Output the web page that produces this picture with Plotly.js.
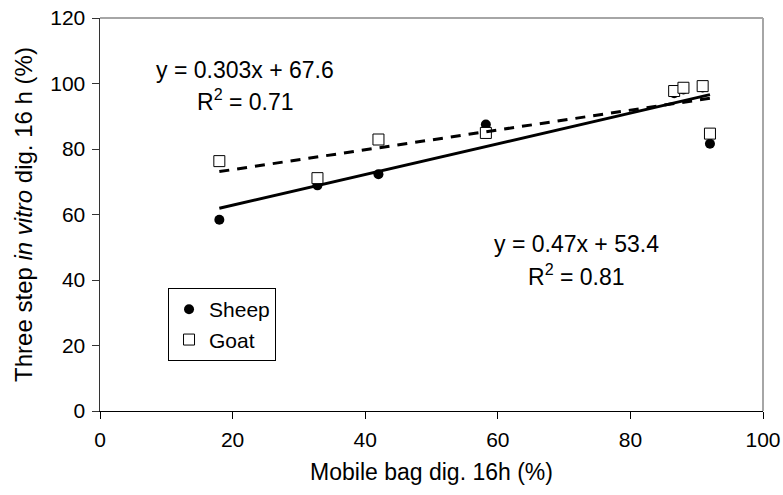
<!DOCTYPE html>
<html>
<head>
<meta charset="utf-8">
<script src="https://cdn.plot.ly/plotly-3.0.1.min.js"></script>
<style>html,body{margin:0;padding:0;background:#fff;}#chart{width:783px;height:495px;}</style>
</head>
<body>
<div id="chart"></div>
<script>
// Data
const sheepX = [18, 32.8, 42, 58.2, 86.6, 88, 90.9, 92];
const sheepY = [58.4, 68.9, 72.3, 87.5, 97.0, 98.2, 98.8, 81.6];
const goatX = [18, 32.8, 42, 58.2, 86.6, 88, 90.9, 92];
const goatY = [76.3, 71.1, 82.9, 84.9, 97.7, 98.7, 99.2, 84.7];
// Trend line end points (from the printed equations)
const fitX = [18, 92];
const sheepFitY = [61.9, 96.6];
const goatFitY = [73.1, 95.5];
const xTicks = [0, 20, 40, 60, 80, 100];
const yTicks = [0, 20, 40, 60, 80, 100, 120];

const FONT = "Liberation Sans, Arial, Helvetica, sans-serif";

const traces = [
  {x: sheepX, y: sheepY, type: 'scatter', mode: 'markers', name: 'Sheep',
   marker: {symbol: 'circle', size: 10, color: '#000'}},
  {x: goatX, y: goatY, type: 'scatter', mode: 'markers', name: 'Goat',
   marker: {symbol: 'square', size: 11, color: '#fff', line: {color: '#000', width: 1}}},
  {x: fitX, y: goatFitY, type: 'scatter', mode: 'lines', showlegend: false, hoverinfo: 'skip',
   line: {color: '#000', width: 3, dash: '10px,8px'}},
  {x: fitX, y: sheepFitY, type: 'scatter', mode: 'lines', showlegend: false, hoverinfo: 'skip',
   line: {color: '#000', width: 3}}
];

const layout = {
  width: 783, height: 495,
  margin: {l: 100, r: 20, t: 18, b: 84},
  paper_bgcolor: '#fff', plot_bgcolor: '#fff',
  font: {family: FONT, size: 21, color: '#000'},
  showlegend: true,
  legend: {x: 0.1026, y: 0.3127, xanchor: 'left', yanchor: 'top',
    bordercolor: '#000', borderwidth: 1, bgcolor: '#fff',
    font: {family: FONT, size: 21, color: '#000'}, tracegroupgap: 0},
  xaxis: {range: [0, 100], tickvals: xTicks, ticktext: xTicks.map(String),
    ticks: 'outside', ticklen: 7, tickcolor: '#000', showline: true, linecolor: '#000', linewidth: 1,
    showgrid: false, zeroline: false, tickfont: {family: FONT, size: 21}, ticklabelstandoff: 3,
    title: {text: 'Mobile bag dig. 16h (%)', font: {family: FONT, size: 23}, standoff: 13}},
  yaxis: {range: [0, 120], tickvals: yTicks, ticktext: yTicks.map(String),
    ticks: 'outside', ticklen: 7, tickcolor: '#333', showline: true, linecolor: '#333', linewidth: 1.5,
    showgrid: false, zeroline: false, tickfont: {family: FONT, size: 21}, ticklabelstandoff: 2,
    title: {text: 'Three step <i>in vitro</i> dig. 16 h (%)', font: {family: FONT, size: 24}, standoff: 11}},
  shapes: [
    {type: 'line', xref: 'paper', yref: 'paper', x0: 0, x1: 1, y0: 1, y1: 1, line: {color: '#a6a6a6', width: 2}},
    {type: 'line', xref: 'paper', yref: 'paper', x0: 1, x1: 1, y0: 0, y1: 1, line: {color: '#a6a6a6', width: 2}}
  ],
  annotations: [
    {x: 21.9, y: 104.2, xref: 'x', yref: 'y', text: 'y = 0.303x + 67.6', showarrow: false, font: {family: FONT, size: 23}},
    {x: 21.9, y: 95, xref: 'x', yref: 'y', text: 'R<sup>2</sup> = 0.71', showarrow: false, font: {family: FONT, size: 23}},
    {x: 71.8, y: 51.0, xref: 'x', yref: 'y', text: 'y = 0.47x + 53.4', showarrow: false, font: {family: FONT, size: 23}},
    {x: 71.8, y: 41.5, xref: 'x', yref: 'y', text: 'R<sup>2</sup> = 0.81', showarrow: false, font: {family: FONT, size: 23}}
  ]
};

Plotly.newPlot('chart', traces, layout, {displayModeBar: false, staticPlot: true});
</script>
</body>
</html>
